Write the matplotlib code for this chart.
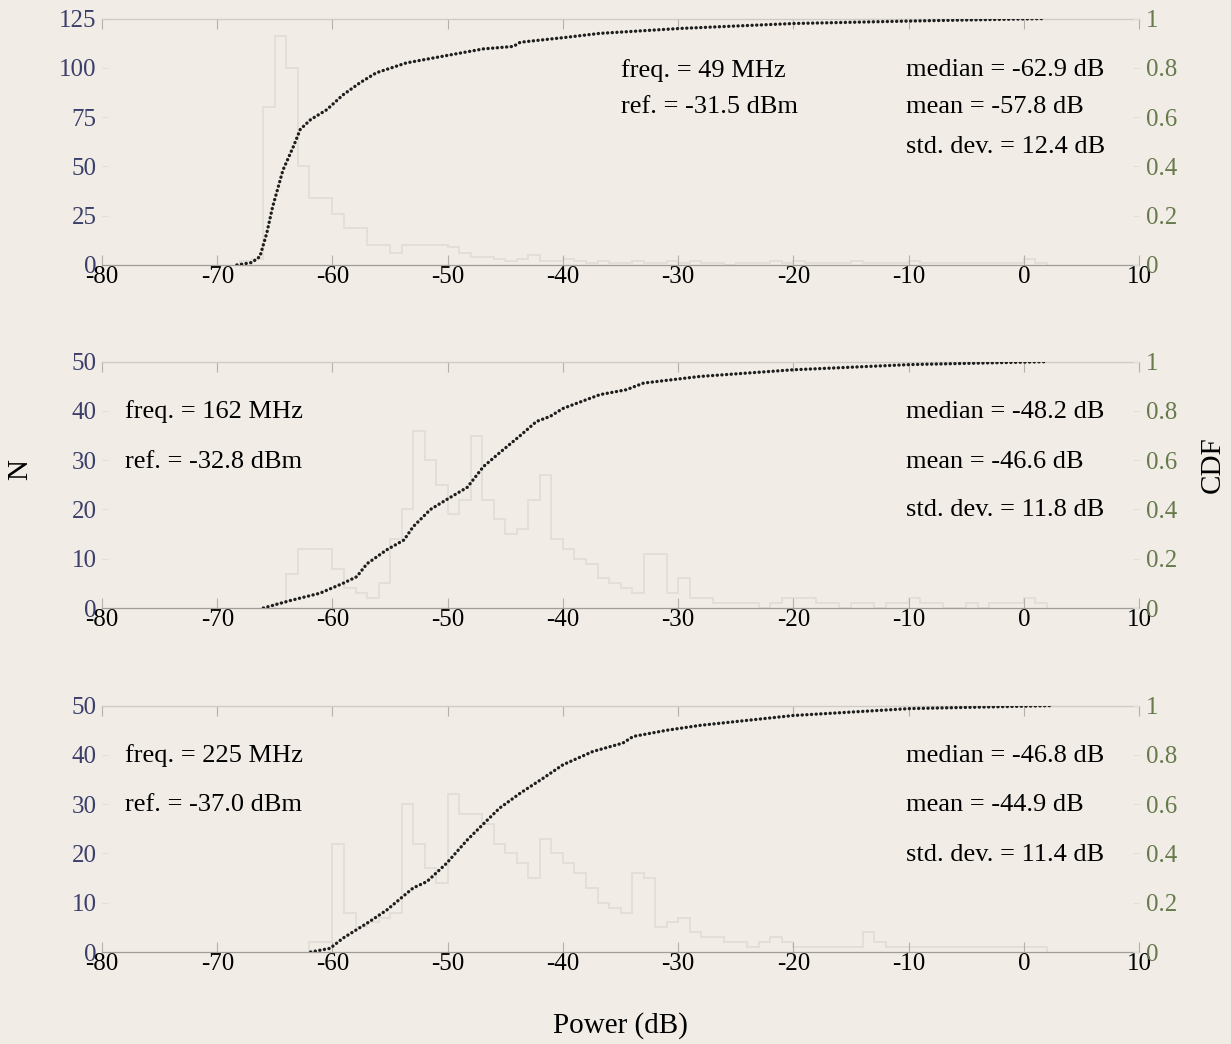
import numpy as np
import matplotlib
matplotlib.use('Agg')
import matplotlib.pyplot as plt

plt.rcParams['font.family'] = ['Liberation Serif', 'DejaVu Serif']

# histogram counts, 1 dB bins, starting at hist_start
hist_start = [-68, -65, -62]
counts_49 = [2, 3, 80, 116, 100, 50, 34, 34, 26, 19, 19, 10, 10, 6, 10, 10, 10, 10, 9, 6,
             4, 4, 3, 2, 3, 5, 2, 2, 3, 2, 1, 2, 1, 1, 2, 1, 1, 2, 1, 2,
             1, 1, 0, 1, 1, 1, 2, 1, 2, 1, 1, 1, 1, 2, 1, 1, 1, 1, 2, 1,
             1, 1, 1, 1, 1, 1, 1, 1, 3, 1]
counts_162 = [1, 7, 12, 12, 12, 8, 4, 3, 2, 5, 14, 20, 36, 30, 25, 19, 22, 35, 22, 18,
              15, 16, 22, 27, 14, 12, 10, 9, 6, 5, 4, 3, 11, 11, 3, 6, 2, 2, 1, 1,
              1, 1, 0, 1, 2, 2, 2, 1, 1, 0, 1, 1, 0, 1, 1, 2, 1, 1, 0, 0,
              1, 0, 1, 1, 1, 2, 1]
counts_225 = [2, 2, 22, 8, 5, 6, 7, 8, 30, 22, 17, 14, 32, 28, 28, 26, 22, 20, 18, 15,
              23, 20, 18, 16, 13, 10, 9, 8, 16, 15, 5, 6, 7, 4, 3, 3, 2, 2, 1, 2,
              3, 2, 1, 1, 1, 1, 1, 1, 4, 2, 1, 1, 1, 1, 1, 1, 1, 1, 1, 1,
              1, 1, 1, 1]

# CDF curves
cdf_x_49 = [-68.3, -67, -66.3, -65.7, -65.2, -64.3, -63.4, -62.8, -61.9, -60.5, -59.1, -57.6,
            -56.2, -53.6, -50.1, -46.9, -44.3, -43.7, -39.7, -36.8, -29.8, -20, -9.9, 1.7]
cdf_y_49 = [0, 0.01, 0.034, 0.13, 0.235, 0.385, 0.48, 0.55, 0.59, 0.63, 0.69, 0.74,
            0.78, 0.82, 0.85, 0.877, 0.887, 0.904, 0.924, 0.94, 0.96, 0.98, 0.99, 1.0]
cdf_x_162 = [-66, -63.7, -61.1, -59.1, -57.9, -57.0, -55.3, -53.8, -53.0, -51.5, -50.1, -48.3, -46.9,
             -45.5, -43.7, -42.3, -41.1, -40.0, -36.8, -34.5, -33.0, -28.1, -20, -9.9, 2.0]
cdf_y_162 = [0, 0.03, 0.06, 0.10, 0.127, 0.18, 0.236, 0.276, 0.33, 0.40, 0.44, 0.49, 0.574,
             0.63, 0.70, 0.757, 0.778, 0.81, 0.866, 0.886, 0.913, 0.94, 0.967, 0.988, 1.0]
cdf_x_225 = [-61.9, -60.2, -59.1, -57.0, -55.3, -53.0, -51.8, -50.1, -48.3, -46.9, -45.5,
             -43.7, -41.7, -40.0, -37.4, -34.8, -33.9, -31.0, -28.1, -20, -9.9, 2.3]
cdf_y_225 = [0, 0.015, 0.056, 0.117, 0.17, 0.26, 0.286, 0.36, 0.455, 0.52, 0.584,
             0.645, 0.706, 0.76, 0.814, 0.848, 0.875, 0.90, 0.92, 0.96, 0.988, 1.0]

freq_txt = ['freq. = 49 MHz', 'freq. = 162 MHz', 'freq. = 225 MHz']
ref_txt = ['ref. = -31.5 dBm', 'ref. = -32.8 dBm', 'ref. = -37.0 dBm']
stats_txt = [['median = -62.9 dB', 'mean = -57.8 dB', 'std. dev. = 12.4 dB'],
             ['median = -48.2 dB', 'mean = -46.6 dB', 'std. dev. = 11.8 dB'],
             ['median = -46.8 dB', 'mean = -44.9 dB', 'std. dev. = 11.4 dB']]
n_max = [125, 50, 50]
n_ticks = [[0, 25, 50, 75, 100, 125], [0, 10, 20, 30, 40, 50], [0, 10, 20, 30, 40, 50]]
cdf_ticks = [0, 0.2, 0.4, 0.6, 0.8, 1]
cdf_labels = ['0', '0.2', '0.4', '0.6', '0.8', '1']
x_ticks = [-80, -70, -60, -50, -40, -30, -20, -10, 0, 10]

bg = '#f1ede6'
navy = '#3b3f6a'
olive = '#667a4c'
faint = '#e2dfd8'
spine_c = '#b4b1aa'

fig = plt.figure(figsize=(12.31, 10.44), dpi=100, facecolor=bg)

bottoms = [0.7462, 0.4176, 0.0881]
height = 0.2360
left, width = 0.0829, 0.8424

all_counts = [counts_49, counts_162, counts_225]
all_cdf = [(cdf_x_49, cdf_y_49), (cdf_x_162, cdf_y_162), (cdf_x_225, cdf_y_225)]
# text layout per panel: x of freq text, row fractions
freq_x = [-35, -78, -78]
rows = [[0.79, 0.64, 0.48], [0.797, 0.593, 0.398], [0.797, 0.598, 0.394]]

for i in range(3):
    ax = fig.add_axes([left, bottoms[i], width, height])
    ax.set_facecolor('none')
    cnt = all_counts[i]
    edges = hist_start[i] + np.arange(len(cnt) + 1)
    ax.stairs(cnt, edges, color=faint, lw=1.4)
    ax.set_xlim(-80, 10)
    ax.set_ylim(0, n_max[i])
    ax.set_xticks(x_ticks)
    ax.set_xticklabels([str(v) for v in x_ticks])
    ax.set_yticks(n_ticks[i])
    ax.tick_params(axis='x', direction='in', length=7, width=0.8, color=spine_c,
                   top=True, labelsize=18, labelcolor='black', pad=1)
    ax.tick_params(axis='y', direction='in', length=4, width=0.8, color=faint,
                   labelsize=18, labelcolor=navy, pad=4)
    ax.spines['bottom'].set_color('#a09d96')
    ax.spines['bottom'].set_linewidth(0.9)
    ax.spines['top'].set_color('#cfccc5')
    ax.spines['top'].set_linewidth(1.0)
    ax.spines['left'].set_visible(False)
    ax.spines['right'].set_visible(False)

    ax2 = ax.twinx()
    ax2.set_ylim(0, 1)
    ax2.set_yticks(cdf_ticks)
    ax2.set_yticklabels(cdf_labels)
    ax2.tick_params(axis='y', direction='in', length=4, width=0.8, color=faint,
                    labelsize=18, labelcolor=olive, pad=5)
    for s in ax2.spines.values():
        s.set_visible(False)
    cx, cy = all_cdf[i]
    ax2.plot(cx, cy, color='#1e1e1e', lw=2.4, ls=(0, (0.05, 1.35)), dash_capstyle='round')

    ax.text(freq_x[i], rows[i][0], freq_txt[i], transform=ax.get_xaxis_transform(),
            fontsize=19, va='center', ha='left')
    ax.text(freq_x[i], rows[i][1], ref_txt[i], transform=ax.get_xaxis_transform(),
            fontsize=19, va='center', ha='left')
    for k in range(3):
        ax.text(-10.2, rows[i][k], stats_txt[i][k], transform=ax.get_xaxis_transform(),
                fontsize=19, va='center', ha='left')

fig.text(0.016, 0.55, 'N', rotation=90, fontsize=21, va='center', ha='center')
fig.text(0.985, 0.555, 'CDF', rotation=90, fontsize=21, va='center', ha='center')
fig.text(0.504, 0.018, 'Power (dB)', fontsize=21, va='center', ha='center')

fig.savefig('out.png', dpi=100, facecolor=bg)
